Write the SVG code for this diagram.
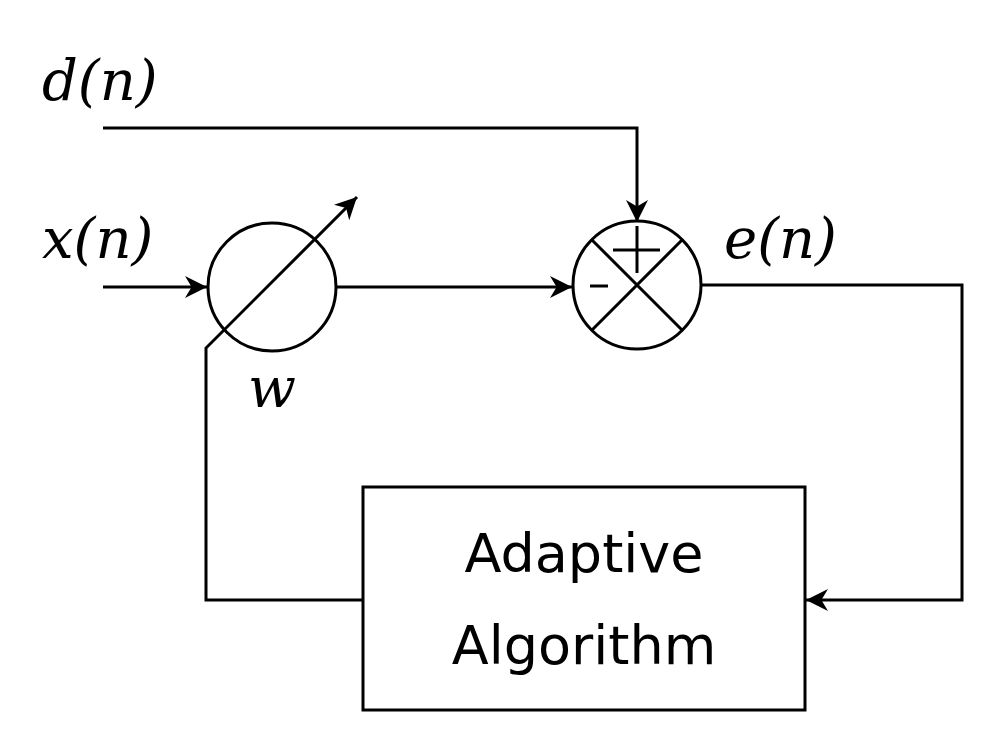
<svg xmlns="http://www.w3.org/2000/svg" width="992" height="756" viewBox="0 0 992 756">
<style>
.l{fill:none;stroke:#000;stroke-width:3}
.m{font-family:"DejaVu Serif","Liberation Serif",serif;font-style:italic;font-size:56px}
.s{font-family:"DejaVu Sans","Liberation Sans",sans-serif;font-size:54px}
</style>
<defs><marker id="a" viewBox="0 0 10 10" refX="10" refY="5" markerWidth="7" markerHeight="7" orient="auto" markerUnits="userSpaceOnUse"><path d="M0,0L10,5L0,10L3,5z"/></marker>
<marker id="b" viewBox="0 0 10 10" refX="10" refY="5" markerWidth="22" markerHeight="22" orient="auto" markerUnits="userSpaceOnUse"><path d="M0,0L10,5L0,10L3,5z"/></marker></defs>
<rect width="992" height="756" fill="#fff"/>
<g id="connectors">
<path class="l" d="M103,128H637V222" marker-end="url(#b)"/>
<path class="l" d="M103,287H207" marker-end="url(#b)"/>
<path class="l" d="M336,287H572" marker-end="url(#b)"/>
<path class="l" d="M701,285H962V600H806" marker-end="url(#b)"/>
<path class="l" d="M363,600H206V348L357,197" marker-end="url(#b)"/>
</g>
<g id="w"><circle class="l" cx="272" cy="287" r="64"/></g>
<g id="sum"><circle class="l" cx="637" cy="285" r="64"/>
<path class="l" d="M592,240L682,330M682,240L592,330M613,250H660M637,226V273M590,286H608"/></g>
<g id="algo"><rect class="l" x="363" y="487" width="442" height="223"/>
<text class="s" x="584" y="572" text-anchor="middle">Adaptive</text>
<text class="s" x="584" y="664" text-anchor="middle">Algorithm</text></g>
<text class="m" x="42" y="100">d(n)</text>
<text class="m" x="42" y="258">x(n)</text>
<text class="m" x="724" y="258">e(n)</text>
<text class="m" x="248" y="407">w</text>
</svg>
